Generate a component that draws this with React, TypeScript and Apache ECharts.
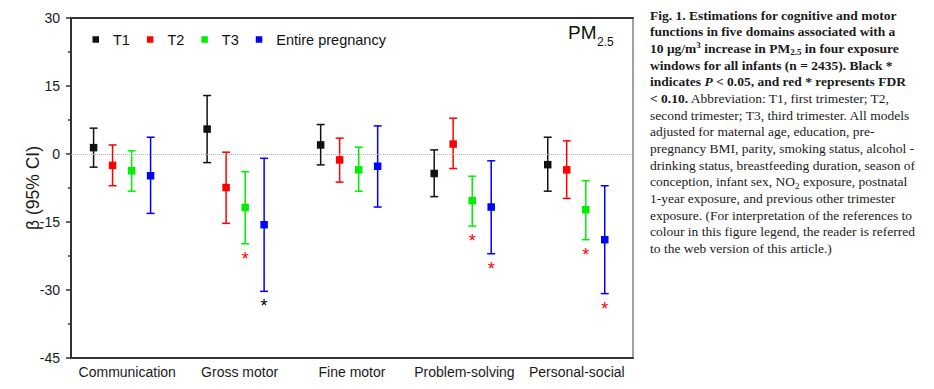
import React, { useEffect, useRef } from "react";
import * as echarts from "echarts";

const domains = ["Communication", "Gross motor", "Fine motor", "Problem-solving", "Personal-social"];
const windowNames = ["T1", "T2", "T3", "Entire pregnancy"];
const windowColors = ["#111111", "#ff0000", "#00ee00", "#0000ff"];

const t1Est = [1.4, 5.5, 2.0, -4.3, -2.35];
const t1Low = [-2.9, -1.9, -2.4, -9.4, -8.2];
const t1High = [5.7, 12.9, 6.5, 0.9, 3.7];

const t2Est = [-2.5, -7.4, -1.3, 2.2, -3.5];
const t2Low = [-7.0, -15.3, -6.2, -3.2, -9.8];
const t2High = [2.0, 0.4, 3.5, 7.9, 2.9];

const t3Est = [-3.7, -11.8, -3.5, -10.3, -12.3];
const t3Low = [-8.2, -19.8, -8.2, -15.9, -18.9];
const t3High = [0.7, -3.9, 1.5, -4.9, -5.9];

const entEst = [-4.8, -15.6, -2.7, -11.7, -18.9];
const entLow = [-13.1, -30.3, -11.7, -22.0, -30.8];
const entHigh = [3.7, -0.95, 6.2, -1.5, -7.0];

// significance markers: "" none, "black" P<0.05, "red" FDR<0.10
const t1Sig = ["", "", "", "", ""];
const t2Sig = ["", "", "", "", ""];
const t3Sig = ["", "red", "", "red", "red"];
const entSig = ["", "black", "", "red", "red"];

const yTicks = [-45, -30, -15, 0, 15, 30];

const captionLines = [
  "{b|Fig. 1. Estimations for cognitive and motor}",
  "{b|functions in five domains associated with a}",
  "{b|10 μg/m}{bsup|3}{b| increase in PM}{bsub|2.5}{b| in four exposure}",
  "{b|windows for all infants (n = 2435). Black *}",
  "{b|indicates }{bi|P}{b| < 0.05, and red * represents FDR}",
  "{b|< 0.10.}{n| Abbreviation: T1, first trimester; T2,}",
  "{n|second trimester; T3, third trimester. All models}",
  "{n|adjusted for maternal age, education, pre-}",
  "{n|pregnancy BMI, parity, smoking status, alcohol -}",
  "{n|drinking status, breastfeeding duration, season of}",
  "{n|conception, infant sex, NO}{nsub|2}{n| exposure, postnatal}",
  "{n|1-year exposure, and previous other trimester}",
  "{n|exposure. (For interpretation of the references to}",
  "{n|colour in this figure legend, the reader is referred}",
  "{n|to the web version of this article.)}",
];

const SANS = "'Liberation Sans', Arial, sans-serif";
const SERIF = "'Liberation Serif', 'Times New Roman', serif";

export default function App() {
  const ref = useRef<HTMLDivElement>(null);

  useEffect(() => {
    document.body.style.margin = "0";
    const chart = echarts.init(ref.current as HTMLDivElement, null, { renderer: "svg" });

    const ests = [t1Est, t2Est, t3Est, entEst];
    const lows = [t1Low, t2Low, t3Low, entLow];
    const highs = [t1High, t2High, t3High, entHigh];
    const sigs = [t1Sig, t2Sig, t3Sig, entSig];
    const offsets = [-0.251, -0.084, 0.084, 0.251];

    const series: any[] = windowNames.map((name, w) => ({
      name,
      type: "custom",
      xAxisIndex: 1,
      yAxisIndex: 0,
      itemStyle: { color: windowColors[w] },
      encode: { x: 0, y: [1, 2, 3] },
      data: domains.map((_, i) => [i + offsets[w], ests[w][i], lows[w][i], highs[w][i]]),
      renderItem: (params: any, api: any) => {
        const i = params.dataIndex;
        const xv = api.value(0);
        const c = api.coord([xv, api.value(1)]);
        const lo = api.coord([xv, api.value(2)]);
        const hi = api.coord([xv, api.value(3)]);
        const col = windowColors[w];
        const cap = 4;
        const children: any[] = [
          { type: "line", shape: { x1: c[0], y1: hi[1], x2: c[0], y2: lo[1] }, style: { stroke: col, lineWidth: 1.5 } },
          { type: "line", shape: { x1: c[0] - cap, y1: hi[1], x2: c[0] + cap, y2: hi[1] }, style: { stroke: col, lineWidth: 1.5 } },
          { type: "line", shape: { x1: c[0] - cap, y1: lo[1], x2: c[0] + cap, y2: lo[1] }, style: { stroke: col, lineWidth: 1.5 } },
          { type: "rect", shape: { x: c[0] - 3.75, y: c[1] - 3.75, width: 7.5, height: 7.5 }, style: { fill: col } },
        ];
        const s = sigs[w][i];
        if (s) {
          children.push({
            type: "text",
            x: c[0],
            y: lo[1] + 15,
            style: {
              text: "*",
              fill: s === "red" ? "#ff0000" : "#000000",
              fontSize: 18,
              fontFamily: SANS,
              align: "center",
              verticalAlign: "middle",
            },
          });
        }
        return { type: "group", children };
      },
      markLine:
        w === 0
          ? {
              silent: true,
              symbol: ["none", "none"],
              label: { show: false },
              lineStyle: { type: "dotted", color: "#b0b0b0", width: 1 },
              data: [{ yAxis: 0 }],
            }
          : undefined,
      z: 3,
    }));

    const option: any = {
      animation: false,
      backgroundColor: "#ffffff",
      grid: {
        left: 71,
        right: 301,
        top: 18,
        bottom: 31,
        show: true,
        borderColor: "#444",
        borderWidth: 1,
        backgroundColor: "transparent",
      },
      legend: {
        data: windowNames,
        left: 87.5,
        top: 27,
        icon: "rect",
        itemWidth: 6.5,
        itemHeight: 6.5,
        itemGap: 17,
        selectedMode: false,
        textStyle: { fontSize: 14.5, color: "#111", fontFamily: SANS, padding: [0, 0, 0, 9] },
      },
      xAxis: [
        {
          type: "category",
          data: domains,
          position: "bottom",
          boundaryGap: true,
          axisLine: { onZero: false, lineStyle: { color: "#333", width: 2 } },
          axisTick: { show: false },
          axisLabel: { interval: 0, fontSize: 14, color: "#1a1a1a", fontFamily: SANS, margin: 7 },
          splitLine: { show: false },
        },
        {
          type: "value",
          min: -0.45,
          max: 4.5,
          show: false,
          position: "bottom",
          axisLine: { onZero: false },
          splitLine: { show: false },
        },
        {
          type: "category",
          data: domains,
          position: "top",
          axisLine: { onZero: false, lineStyle: { color: "#333", width: 2 } },
          axisTick: { show: false },
          axisLabel: { show: false },
          splitLine: { show: false },
        },
      ],
      yAxis: [
        {
          type: "value",
          min: yTicks[0],
          max: yTicks[yTicks.length - 1],
          interval: 15,
          name: "β (95% CI)",
          nameLocation: "middle",
          nameGap: 29,
          nameMoveOverlap: false,
          nameTextStyle: { fontSize: 17.5, color: "#1a1a1a", fontFamily: SANS },
          axisLine: { show: true, onZero: false, lineStyle: { color: "#333", width: 2 } },
          axisTick: { show: true, length: 5, lineStyle: { color: "#333", width: 1.5 } },
          minorTick: { show: true, splitNumber: 2, length: 3, lineStyle: { color: "#333", width: 1.5 } },
          splitLine: { show: false },
          minorSplitLine: { show: false },
          axisLabel: { fontSize: 14, color: "#1a1a1a", fontFamily: SANS, margin: 11 },
        },
      ],
      graphic: [
        {
          type: "text",
          x: 568,
          y: 32.6,
          style: { text: "PM", fontSize: 19, fontFamily: SANS, fill: "#111", verticalAlign: "middle", align: "left" },
        },
        {
          type: "text",
          x: 597,
          y: 41.5,
          style: { text: "2.5", fontSize: 12, fontFamily: SANS, fill: "#111", verticalAlign: "middle", align: "left" },
        },
        {
          type: "text",
          x: 650,
          y: 7,
          style: {
            text: captionLines.join("\n"),
            verticalAlign: "top",
            align: "left",
            fill: "#1a1a1a",
            rich: {
              b: { fontSize: 13.5, fontWeight: "bold", fontFamily: SERIF, lineHeight: 16.65, fill: "#1a1a1a" },
              bi: { fontSize: 13.5, fontWeight: "bold", fontStyle: "italic", fontFamily: SERIF, lineHeight: 16.65, fill: "#1a1a1a" },
              n: { fontSize: 13.5, fontFamily: SERIF, lineHeight: 16.65, fill: "#1a1a1a" },
              bsup: { fontSize: 9, fontWeight: "bold", fontFamily: SERIF, lineHeight: 9, verticalAlign: "top", fill: "#1a1a1a" },
              bsub: { fontSize: 9, fontWeight: "bold", fontFamily: SERIF, lineHeight: 9, verticalAlign: "bottom", fill: "#1a1a1a" },
              nsub: { fontSize: 9, fontFamily: SERIF, lineHeight: 9, verticalAlign: "bottom", fill: "#1a1a1a" },
            },
          },
        },
      ],
      series,
    };

    chart.setOption(option);
    return () => {
      chart.dispose();
    };
  }, []);

  return <div ref={ref} style={{ width: 934, height: 389 }} />;
}
